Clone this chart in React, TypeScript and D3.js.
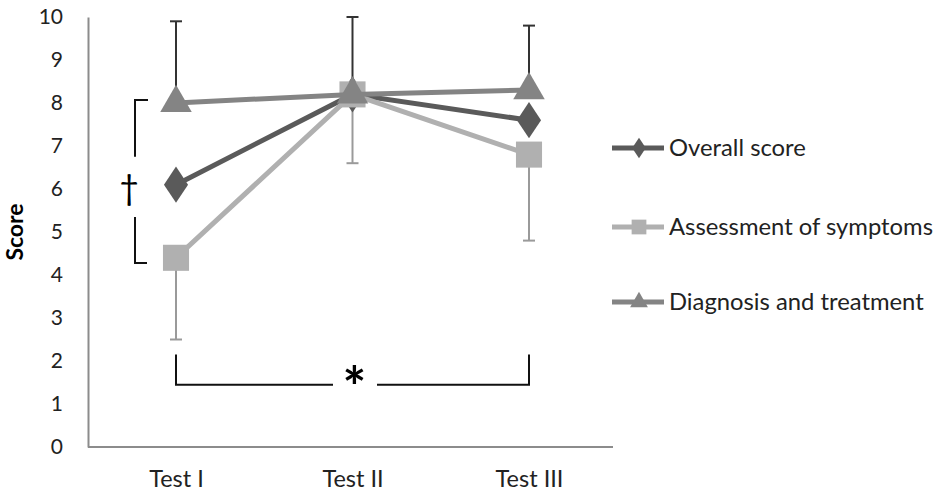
import { useEffect, useRef } from 'react'
import * as d3 from 'd3'

const tests = ['Test I', 'Test II', 'Test III']
const overall = [6.1, 8.2, 7.6]
const assessment = [4.4, 8.2, 6.8]
const diagnosis = [8.0, 8.2, 8.3]
// error bars: upper ones on diagnosis, lower ones on assessment
const diagnosisUpper = [9.9, 10.0, 9.8]
const assessmentLower = [2.5, 6.6, 4.8]
const yTicks = [0, 1, 2, 3, 4, 5, 6, 7, 8, 9, 10]
const seriesNames = ['Overall score', 'Assessment of symptoms', 'Diagnosis and treatment']

const FONT = 'Lato, sans-serif'

const App = () => {
  const chart = useRef<SVGSVGElement | null>(null)

  useEffect(() => {
    const svg = d3.select(chart.current)
    svg.selectAll('*').remove()

    const x = d3.scalePoint<string>().domain(tests).range([87.75, 617.25]).padding(0.5)
    const y = d3.scaleLinear().domain([0, 10]).range([447, 17])

    // Y axis
    const yAxis = svg.append('g')
      .attr('transform', 'translate(88,0)')
      .call(d3.axisLeft(y).tickValues(yTicks).tickSize(0).tickSizeOuter(0).tickPadding(25))
    yAxis.select('.domain').attr('stroke', '#8c8c8c').attr('stroke-width', 2)
    yAxis.selectAll('text')
      .attr('font-family', FONT).attr('font-size', 21).attr('fill', '#222')

    // X axis
    const xAxis = svg.append('g')
      .attr('transform', 'translate(0,447)')
      .call(d3.axisBottom(x).tickSize(0).tickSizeOuter(0).tickPadding(23))
    xAxis.select('.domain').attr('stroke', '#8c8c8c').attr('stroke-width', 2)
      .attr('d', 'M88,0H613')
    xAxis.selectAll('text')
      .attr('font-family', FONT).attr('font-size', 23.5).attr('fill', '#222')

    svg.append('text')
      .attr('transform', 'translate(23,232) rotate(-90)')
      .attr('text-anchor', 'middle')
      .attr('font-family', FONT).attr('font-size', 23).attr('font-weight', 'bold')
      .text('Score')

    // error bars
    const drawErr = (vals: number[], base: number[], color: string) => {
      const g = svg.append('g').attr('stroke', color).attr('stroke-width', 2)
      tests.forEach((t, i) => {
        const cx = x(t)!
        g.append('line').attr('x1', cx).attr('x2', cx).attr('y1', y(base[i])).attr('y2', y(vals[i]))
        g.append('line').attr('x1', cx - 6).attr('x2', cx + 6).attr('y1', y(vals[i])).attr('y2', y(vals[i]))
      })
    }
    drawErr(diagnosisUpper, diagnosis, '#333')
    drawErr(assessmentLower, assessment, '#9a9a9a')

    const line = d3.line<number>().x((d, i) => x(tests[i])!).y(d => y(d))
    const colors = ['#5a5a5a', '#b0b0b0', '#848484']
    const symbols = [d3.symbolDiamond, d3.symbolSquare, d3.symbolTriangle]
    const sizes = [380, 680, 430]
    const allSeries = [overall, assessment, diagnosis]

    allSeries.forEach((vals, s) => {
      svg.append('path')
        .attr('d', line(vals))
        .attr('fill', 'none')
        .attr('stroke', colors[s])
        .attr('stroke-width', 5)
      svg.append('g').selectAll('path')
        .data(vals)
        .enter()
        .append('path')
        .attr('d', d3.symbol().type(symbols[s]).size(sizes[s]))
        .attr('transform', (d, i) => s === 0
          ? `translate(${x(tests[i])},${y(d)}) scale(1.15,1)`
          : `translate(${x(tests[i])},${y(d)})`)
        .attr('fill', colors[s])
    })

    // significance brackets
    const br = svg.append('g').attr('stroke', '#111').attr('stroke-width', 2).attr('fill', 'none')
    const bx = 135
    br.append('path').attr('d', `M${bx + 13},${y(8.07)}H${bx}V${y(6.75)}`)
    br.append('path').attr('d', `M${bx},${y(5.35)}V${y(4.28)}H${bx + 12}`)
    svg.append('text')
      .attr('x', bx - 6).attr('y', 200)
      .attr('text-anchor', 'middle')
      .attr('font-family', FONT).attr('font-size', 34)
      .text('†')

    const x1 = x(tests[0])!, x3 = x(tests[2])!
    const by = y(1.45), bt = y(2.15)
    br.append('path').attr('d', `M${x1},${bt}V${by}H333`)
    br.append('path').attr('d', `M377,${by}H${x3}V${bt}`)
    svg.append('text')
      .attr('x', (x1 + x3) / 2 + 2).attr('y', 407)
      .attr('text-anchor', 'middle')
      .attr('font-family', FONT).attr('font-size', 56).attr('font-weight', 'bold')
      .text('*')

    // legend
    const legend = svg.append('g')
    const rows = [148, 227, 302]
    seriesNames.forEach((name, s) => {
      const g = legend.append('g').attr('transform', `translate(0,${rows[s]})`)
      g.append('line').attr('x1', 612).attr('x2', 664).attr('y1', 0).attr('y2', 0)
        .attr('stroke', colors[s]).attr('stroke-width', 5)
      g.append('path')
        .attr('d', d3.symbol().type(symbols[s]).size(sizes[s] * 0.32))
        .attr('transform', s === 0 ? 'translate(639,0) scale(1.15,1)' : 'translate(639,0)')
        .attr('fill', colors[s])
      g.append('text')
        .attr('x', 669).attr('y', 0).attr('dy', '0.35em')
        .attr('font-family', FONT).attr('font-size', 23.8).attr('fill', '#222')
        .text(name)
    })
  }, [])

  return (
    <svg ref={chart} width={940} height={492} style={{ position: 'absolute', left: 0, top: 0, background: '#fff' }} />
  )
}

export default App
